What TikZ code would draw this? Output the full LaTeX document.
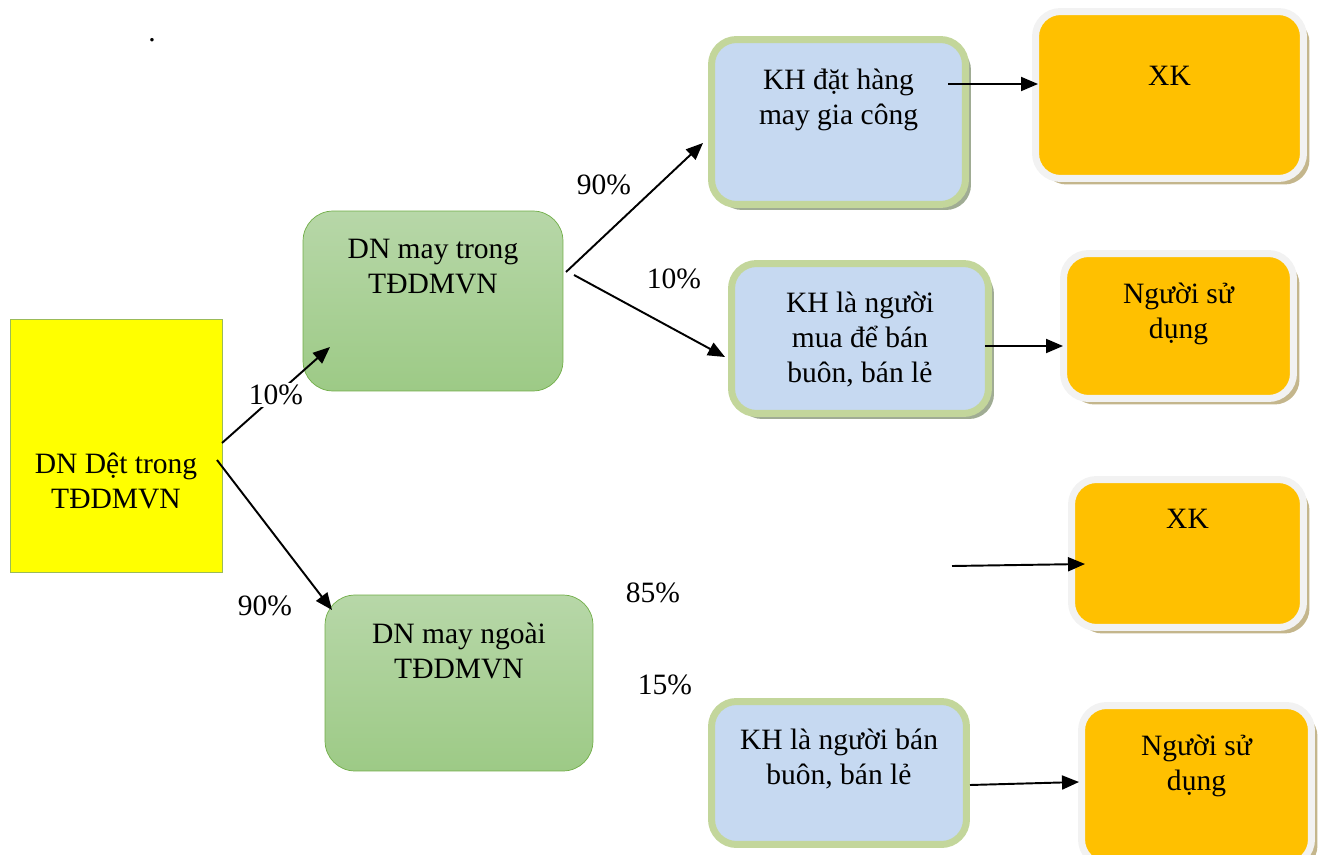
\documentclass[tikz,border=0pt]{standalone}
\definecolor{dnyellow}{rgb}{1.0, 1.0, 0.0}
\definecolor{dnborder}{RGB}{155,187,89}
\definecolor{maytop}{RGB}{183,215,168}
\definecolor{maybot}{RGB}{157,202,134}
\definecolor{mayborder}{RGB}{112,173,71}
\definecolor{khfill}{RGB}{198,217,241}
\definecolor{khborder}{RGB}{195,214,155}
\definecolor{khshadow}{RGB}{160,172,148}
\definecolor{xkfill}{RGB}{255,192,0}
\definecolor{xkborder}{RGB}{242,242,242}
\definecolor{xkshadow}{RGB}{196,182,140}
\usepackage{fontspec}
\setmainfont{Liberation Serif}
\usepackage{tikz}
\usetikzlibrary{arrows.meta, shadows}
\newcommand{\boxfont}{\fontsize{16.8}{20}\selectfont}

\begin{document}
\begin{tikzpicture}[>={Triangle[length=0.34cm,width=0.28cm]}, x=0.02cm, y=-0.02cm]
	\useasboundingbox (0,0) rectangle (1322,855);
	% ------------------------------------------------------------------
	% STYLE DEFINITIONS
	% ------------------------------------------------------------------
	\tikzset{
		dnbox/.style   = {rectangle, fill=dnyellow, draw=dnborder, thin},
		maybox/.style  = {rectangle, rounded corners=0.6cm, top color=maytop, bottom color=maybot, draw=mayborder, thin},
		khbox/.style   = {rectangle, rounded corners=0.5cm, fill=khfill, draw=khborder, line width=0.14cm},
		khshade/.style = {drop shadow={shadow xshift=0.11cm, shadow yshift=-0.11cm, fill=khshadow, opacity=1}},
		xkbox/.style   = {rectangle, rounded corners=0.5cm, fill=xkfill, draw=xkborder, line width=0.14cm,
		                  drop shadow={shadow xshift=0.12cm, shadow yshift=-0.12cm, fill=xkshadow, opacity=1}},
		boxtext/.style = {font=\boxfont, align=center, inner sep=0pt, anchor=north},
		pct/.style     = {font=\boxfont, inner sep=1pt},
		flow/.style    = {->, line width=1.1pt, black},
	}
	
	% ------------------------------------------------------------------
	% BOXES
	% ------------------------------------------------------------------
	\node[font=\boxfont, inner sep=0pt] (dot) at (152,40) {.};
	
	\node[dnbox, minimum width=4.24cm, minimum height=5.06cm,
	      label={[boxtext, yshift=-2.68cm]north:{DN Dệt trong\\TĐDMVN}}] (dn) at (116,445.5) {};
	
	\node[maybox, minimum width=5.2cm, minimum height=3.6cm,
	      label={[boxtext, yshift=-0.56cm]north:{DN may trong\\TĐDMVN}}] (may1) at (433,301) {};
	\node[maybox, minimum width=5.36cm, minimum height=3.52cm,
	      label={[boxtext, yshift=-0.56cm]north:{DN may ngoài\\TĐDMVN}}] (may2) at (459,683) {};
	
	\node[khbox, khshade, minimum width=5.08cm, minimum height=3.3cm,
	      label={[boxtext, yshift=-0.65cm]north:{KH đặt hàng\\may gia công}}] (kh1) at (838.5,122) {};
	\node[khbox, khshade, minimum width=5.14cm, minimum height=3.0cm,
	      label={[boxtext, yshift=-0.63cm]north:{KH là người\\mua để bán\\buôn, bán lẻ}}] (kh2) at (860,338.5) {};
	\node[khbox, minimum width=5.1cm, minimum height=2.86cm,
	      label={[boxtext, yshift=-0.61cm]north:{KH là người bán\\buôn, bán lẻ}}] (kh3) at (839,773) {};
	
	\node[xkbox, minimum width=5.36cm, minimum height=3.34cm,
	      label={[boxtext, yshift=-1.15cm]north:{XK}}] (xk1) at (1169.5,95) {};
	\node[xkbox, minimum width=4.6cm, minimum height=2.9cm,
	      label={[boxtext, yshift=-0.65cm]north:{Người sử\\dụng}}] (nsd2) at (1178.5,326) {};
	\node[xkbox, minimum width=4.64cm, minimum height=2.96cm,
	      label={[boxtext, yshift=-0.65cm]north:{XK}}] (xk2) at (1187.5,553.5) {};
	\node[xkbox, minimum width=4.6cm, minimum height=3.18cm,
	      label={[boxtext, yshift=-0.65cm]north:{Người sử\\dụng}}] (nsd3) at (1196.5,785) {};
	
	% ------------------------------------------------------------------
	% SHARES & FLOWS
	% ------------------------------------------------------------------
	\draw[flow] ([shift={(106,-2.5)}]dn.center) -- ([shift={(-103,46)}]may1.center)
		node[pct, midway, fill=white] {10\%};
	\draw[flow] ([shift={(101,14.5)}]dn.center) -- ([shift={(-127,-73)}]may2.center);
	\node[pct] (p90a) at (265,606) {90\%};
	
	\draw[flow] ([shift={(133,-29)}]may1.center) -- ([shift={(-135.5,21)}]kh1.center);
	\node[pct] (p90b) at (604,185) {90\%};
	\draw[flow] ([shift={(141,-26)}]may1.center) -- ([shift={(-135,18.5)}]kh2.center);
	\node[pct] (p10b) at (674,279) {10\%};
	
	\node[pct] (p85) at (653,593) {85\%};
	\node[pct] (p15) at (665,685) {15\%};
	
	\draw[flow] ([shift={(109.5,-38)}]kh1.center) -- ([shift={(-131.5,-11)}]xk1.center);
	\draw[flow] ([shift={(125,7.5)}]kh2.center) -- ([shift={(-115.5,20)}]nsd2.center);
	\coordinate (xkin) at (952,566);
	\draw[flow] (xkin) -- ([shift={(-102.5,10.5)}]xk2.center);
	\draw[flow] ([shift={(131,12)}]kh3.center) -- ([shift={(-117.5,-3)}]nsd3.center);
	
\end{tikzpicture}
\end{document}
